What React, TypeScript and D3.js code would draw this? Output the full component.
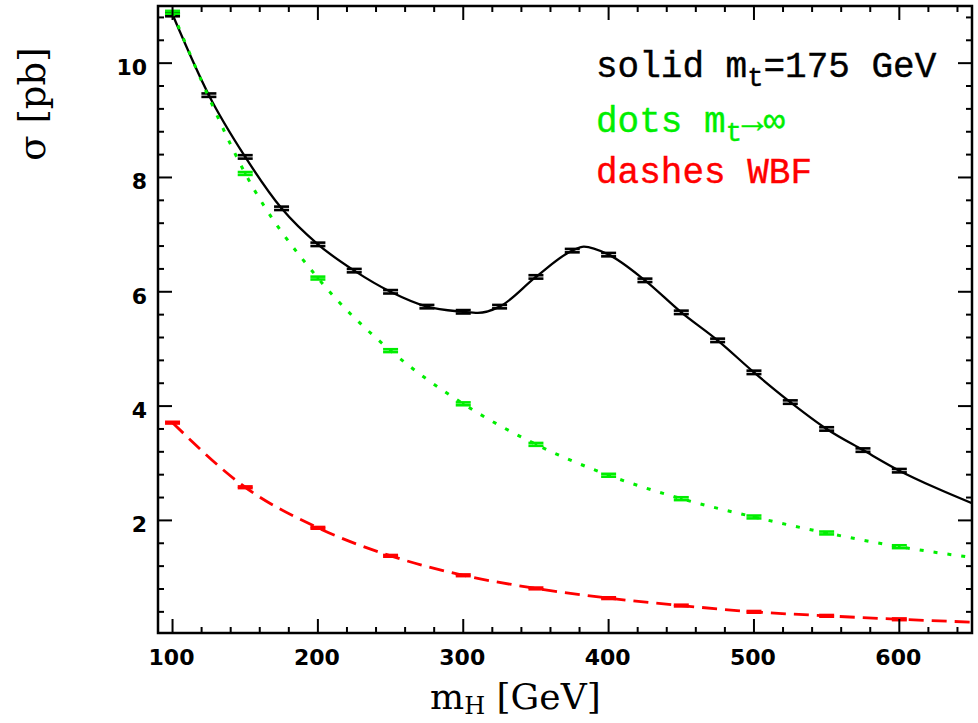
import React, { useEffect, useRef } from 'react';
import * as d3 from 'd3';

const WIDTH = 978;
const HEIGHT = 723;

// m_t = 175 GeV (solid)
const topMass = [100, 125, 150, 175, 200, 225, 250, 275, 300, 325, 350, 375, 400, 425, 450, 475, 500, 525, 550, 575, 600];
const topSigma = [10.85, 9.44, 8.36, 7.46, 6.83, 6.37, 6.0, 5.74, 5.65, 5.74, 6.26, 6.72, 6.65, 6.2, 5.64, 5.15, 4.59, 4.07, 3.6, 3.23, 2.87];
const topLineMass = [100, 125, 150, 175, 200, 225, 250, 275, 300, 310, 325, 350, 375, 383, 400, 425, 450, 475, 500, 525, 550, 575, 600, 625, 650];
const topLineSigma = [10.85, 9.44, 8.36, 7.46, 6.83, 6.37, 6.0, 5.74, 5.65, 5.63, 5.74, 6.26, 6.72, 6.79, 6.65, 6.2, 5.64, 5.15, 4.59, 4.07, 3.6, 3.23, 2.87, 2.57, 2.3];
const topErr = 0.03;

// m_t -> infinity (dots)
const infMass = [100, 150, 200, 250, 300, 350, 400, 450, 500, 550, 600];
const infSigma = [10.89, 8.07, 6.24, 4.97, 4.04, 3.33, 2.79, 2.38, 2.06, 1.78, 1.54];
const infLineMass = [100, 125, 150, 200, 250, 300, 350, 400, 450, 500, 550, 600, 650];
const infLineSigma = [10.89, 9.4, 8.07, 6.24, 4.97, 4.04, 3.33, 2.79, 2.38, 2.06, 1.78, 1.54, 1.35];
const infErr = 0.025;

// WBF (dashes)
const wbfMass = [100, 150, 200, 250, 300, 350, 400, 450, 500, 550, 600];
const wbfSigma = [3.71, 2.58, 1.87, 1.38, 1.04, 0.81, 0.64, 0.51, 0.4, 0.33, 0.27];
const wbfLineMass = [100, 150, 200, 250, 300, 350, 400, 450, 500, 550, 600, 650];
const wbfLineSigma = [3.71, 2.58, 1.87, 1.38, 1.04, 0.81, 0.64, 0.51, 0.4, 0.33, 0.27, 0.22];
const wbfErr = 0.015;

const xMajorTicks = [100, 200, 300, 400, 500, 600];
const yMajorTicks = [2, 4, 6, 8, 10];

const GREEN = '#00ee00';
const RED = '#ff0000';

const App = () => {
  const svgRef = useRef<SVGSVGElement>(null);

  useEffect(() => {
    const svg = d3.select(svgRef.current);
    svg.selectAll('*').remove();

    const left = 158, right = 972, top = 6, bottom = 633;

    const x = d3.scaleLinear().domain([90, 650]).range([left, right]);
    const y = d3.scaleLinear().domain([0.03, 11]).range([bottom, top]);

    const clip = svg.append('clipPath').attr('id', 'plotclip');
    clip.append('rect').attr('x', left).attr('y', top).attr('width', right - left).attr('height', bottom - top);

    const plot = svg.append('g').attr('clip-path', 'url(#plotclip)');

    const line = d3.line<[number, number]>()
      .x(d => x(d[0]))
      .y(d => y(d[1]))
      .curve(d3.curveMonotoneX);

    const series = [
      { lm: topLineMass, ls: topLineSigma, m: topMass, s: topSigma, err: topErr, color: '#000', width: 2.3, dash: null },
      { lm: infLineMass, ls: infLineSigma, m: infMass, s: infSigma, err: infErr, color: GREEN, width: 3, dash: '4 10' },
      { lm: wbfLineMass, ls: wbfLineSigma, m: wbfMass, s: wbfSigma, err: wbfErr, color: RED, width: 2.8, dash: '15 8' },
    ];

    series.forEach(sr => {
      const pts = sr.lm.map((m, i) => [m, sr.ls[i]] as [number, number]);
      plot.append('path')
        .attr('d', line(pts))
        .attr('fill', 'none')
        .attr('stroke', sr.color)
        .attr('stroke-width', sr.width)
        .attr('stroke-dasharray', sr.dash);

      // error bars
      sr.m.forEach((m, i) => {
        const cx = x(m);
        const y1 = y(sr.s[i] + sr.err);
        const y2 = y(sr.s[i] - sr.err);
        const g = plot.append('g').attr('stroke', sr.color).attr('stroke-width', 2.6);
        g.append('line').attr('x1', cx).attr('x2', cx).attr('y1', y1).attr('y2', y2);
        g.append('line').attr('x1', cx - 7.5).attr('x2', cx + 7.5).attr('y1', y1).attr('y2', y1);
        g.append('line').attr('x1', cx - 7.5).attr('x2', cx + 7.5).attr('y1', y2).attr('y2', y2);
      });
    });

    // ticks on all four sides
    const ticks = svg.append('g').attr('stroke', '#000').attr('stroke-width', 2);
    d3.range(100, 650, 20).forEach(v => {
      const len = xMajorTicks.includes(v) ? 14 : 6;
      ticks.append('line').attr('x1', x(v)).attr('x2', x(v)).attr('y1', bottom).attr('y2', bottom - len);
      ticks.append('line').attr('x1', x(v)).attr('x2', x(v)).attr('y1', top).attr('y2', top + len);
    });
    d3.range(1, 28).map(k => +(k * 0.4).toFixed(1)).forEach(v => {
      const len = yMajorTicks.includes(v) ? 14 : 6;
      ticks.append('line').attr('y1', y(v)).attr('y2', y(v)).attr('x1', left).attr('x2', left + len);
      ticks.append('line').attr('y1', y(v)).attr('y2', y(v)).attr('x1', right).attr('x2', right - len);
    });

    svg.append('rect')
      .attr('x', left).attr('y', top)
      .attr('width', right - left).attr('height', bottom - top)
      .attr('fill', 'none').attr('stroke', '#000').attr('stroke-width', 2.5);

    // tick labels
    xMajorTicks.forEach(v => {
      svg.append('text')
        .attr('x', x(v) - 1).attr('y', 665)
        .attr('text-anchor', 'middle')
        .style('font-family', 'DejaVu Sans').style('font-weight', 'bold').style('font-size', '22px')
        .text(v);
    });
    yMajorTicks.forEach(v => {
      svg.append('text')
        .attr('x', 147).attr('y', y(v) + 12)
        .attr('text-anchor', 'end')
        .style('font-family', 'DejaVu Sans').style('font-weight', 'bold').style('font-size', '22px')
        .text(v);
    });

    // axis titles
    const xt = svg.append('text')
      .attr('x', 430).attr('y', 709)
      .style('font-family', 'DejaVu Serif').style('font-size', '36px');
    xt.append('tspan').text('m');
    xt.append('tspan').attr('dy', 5).style('font-size', '24px').text('H');
    xt.append('tspan').attr('dy', -5).text(' [GeV]');

    svg.append('text')
      .attr('transform', 'translate(45,104) rotate(-90)')
      .attr('text-anchor', 'middle')
      .style('font-family', 'DejaVu Serif').style('font-size', '37px')
      .text('σ [pb]');

    // legend
    const legend = [
      { main: 'solid m', sub: 't', rest: '=175 GeV', color: '#000', y: 77 },
      { main: 'dots m', sub: 't', rest: '→∞', color: GREEN, y: 132 },
      { main: 'dashes WBF', sub: '', rest: '', color: RED, y: 183 },
    ];
    legend.forEach(l => {
      const t = svg.append('text')
        .attr('x', 596).attr('y', l.y)
        .attr('fill', l.color).attr('stroke', l.color).attr('stroke-width', 0.4)
        .style('font-family', 'Liberation Mono').style('font-size', '36px')
        .style('white-space', 'pre');
      t.append('tspan').text(l.main);
      if (l.sub) {
        t.append('tspan').attr('dy', 9).style('font-size', '27px').text(l.sub);
        t.append('tspan').attr('dy', -9).text(l.rest);
      }
    });
  }, []);

  return (
    <svg
      ref={svgRef}
      width={WIDTH}
      height={HEIGHT}
      style={{ position: 'absolute', left: 0, top: 0, background: '#fff' }}
    />
  );
};

export default App;
